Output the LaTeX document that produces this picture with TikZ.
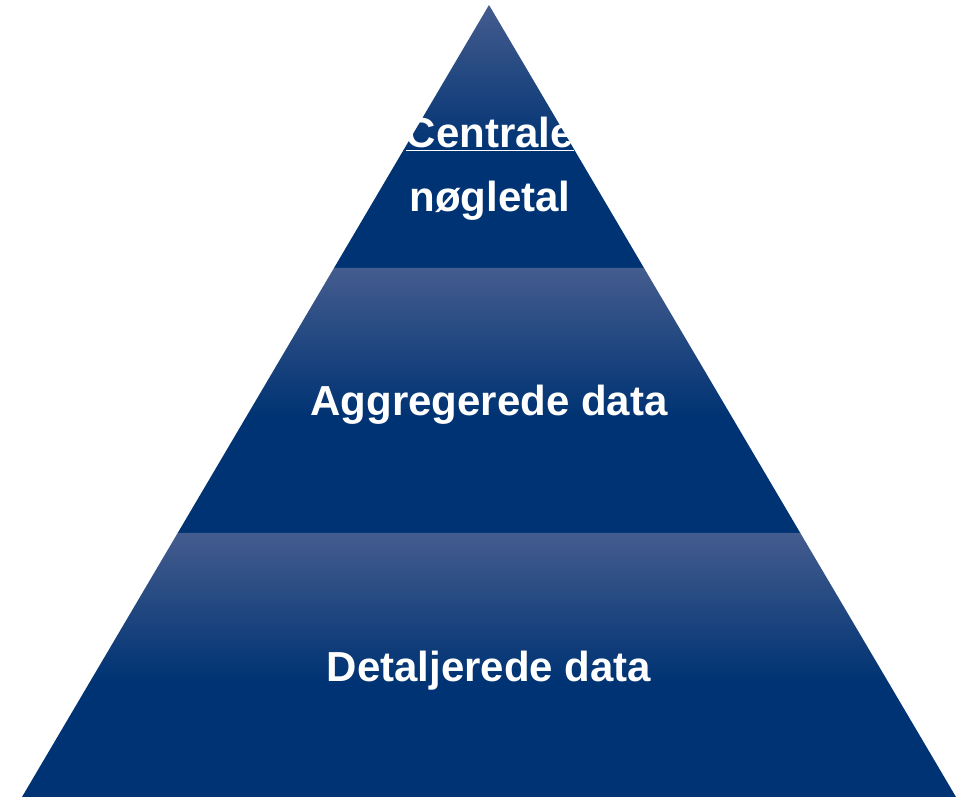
\documentclass[tikz,border=0pt]{standalone}
\usepackage{fontspec}
\setmainfont{Liberation Sans}
\definecolor{bandtop}{HTML}{445C8E}
\definecolor{bandbot}{HTML}{003373}
\pgfdeclareverticalshading{bandshade}{100bp}{color(0bp)=(bandbot); color(25bp)=(bandbot); color(47bp)=(bandbot); color(75bp)=(bandtop); color(100bp)=(bandtop)}
\begin{document}
\begin{tikzpicture}[x=1pt, y=1pt]
\tikzstyle{band} = [shading=bandshade, draw=none]
\tikzstyle{label} = [text=white, font=\bfseries\fontsize{42}{50}\selectfont, anchor=base, inner sep=0pt]

\useasboundingbox (0,0) rectangle (956,797);

% corners of the three layers
\coordinate (apex) at (489,792);
\coordinate (l1) at (334,529);
\coordinate (r1) at (644,529);
\coordinate (l2) at (177.7,264);
\coordinate (r2) at (800.3,264);
\coordinate (l3) at (22,0);
\coordinate (r3) at (956,0);

\path [band] (apex) -- (r1) -- (l1) -- cycle;
\path [band] (l1) -- (r1) -- (r2) -- (l2) -- cycle;
\path [band] (l2) -- (r2) -- (r3) -- (l3) -- cycle;

\node [label] (top1) at (490,649) {\underline{Centrale}};
\node [label] (top2) at (490,585) {nøgletal};
\node [label] (mid) at (489,381) {Aggregerede data};
\node [label] (bot) at (489,115) {Detaljerede data};
\end{tikzpicture}
\end{document}
